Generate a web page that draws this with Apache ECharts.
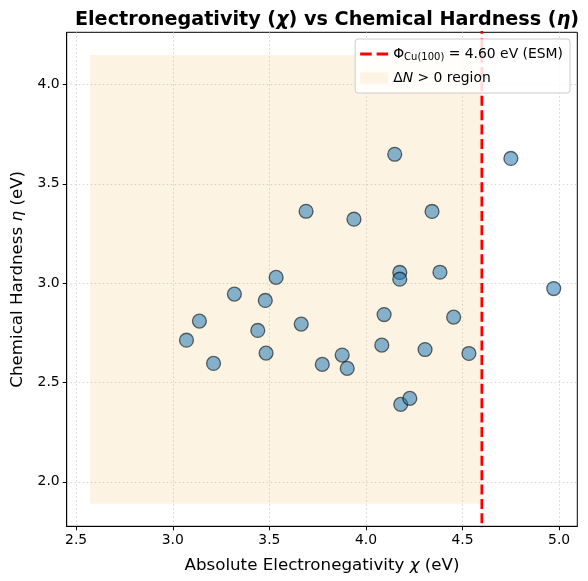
<!DOCTYPE html>
<html><head><meta charset="utf-8">
<script src="https://cdn.jsdelivr.net/npm/echarts@6/dist/echarts.min.js"></script>
<style>html,body{margin:0;padding:0;background:#fff}#c{width:588px;height:581px}</style>
</head><body><div id="c"></div>
<script>
const chi = [3.071,3.138,3.211,3.319,3.440,3.479,3.483,3.535,3.665,3.690,3.774,3.877,3.903,3.938,4.082,4.094,4.149,4.175,4.175,4.180,4.227,4.306,4.342,4.383,4.454,4.533,4.750,4.972];
const eta = [2.713,2.809,2.596,2.945,2.762,2.913,2.648,3.029,2.794,3.362,2.591,2.638,2.571,3.322,2.688,2.842,3.649,3.054,3.020,2.390,2.420,2.666,3.361,3.055,2.829,2.646,3.628,2.973];
const phiCu = 4.60;
const regionX = [2.571, 4.60];
const regionY = [1.890, 4.149];
const xRange = [2.451, 5.094];
const yRange = [1.776, 4.263];
const xTicks = [2.5, 3.0, 3.5, 4.0, 4.5, 5.0];
const yTicks = [2.0, 2.5, 3.0, 3.5, 4.0];

const pts = chi.map((x,i)=>[x, eta[i]]);
const FONT = 'DejaVu Sans';
const lab = v => Number(v).toFixed(1);

const axisCommon = (ticks) => ({
  axisLine:{show:true,lineStyle:{color:'#000',width:1}},
  axisTick:{show:true,length:4,lineStyle:{color:'#000'},customValues:ticks},
  axisLabel:{customValues:ticks,formatter:lab,fontFamily:FONT,fontSize:13.9,color:'#000',margin:7},
  splitLine:{show:true,lineStyle:{color:'#cccccc',type:[1.5,2.5],width:0.8}}
});

const chart = echarts.init(document.getElementById('c'), null, {renderer:'canvas'});
chart.setOption({
  animation:false,
  backgroundColor:'#fff',
  title:{
    text:'{b|Electronegativity (}{i|χ}{b|) vs Chemical Hardness (}{i|η}{b|)}',
    left:322, top:6, textAlign:'center',
    textStyle:{ rich:{
      b:{fontFamily:FONT,fontWeight:'bold',fontSize:19.2,color:'#000'},
      i:{fontFamily:FONT,fontStyle:'italic',fontSize:19.2,color:'#000'}
    }}
  },
  grid:{left:66.7,right:10.7,top:32.3,bottom:54.7,show:true,borderColor:'#000',borderWidth:1,backgroundColor:'transparent'},
  legend:{
    right:18, top:39, orient:'vertical', itemGap:9,
    itemWidth:28, itemHeight:11,
    padding:[8,7,8,5],
    borderColor:'#ccc', borderWidth:1, borderRadius:3,
    backgroundColor:'rgba(255,255,255,0.85)',
    data:[
      {name:'esm',icon:'path://M0,0H10.3V2.8H0Z M14.7,0H25V2.8H14.7Z',itemStyle:{color:'#ff0000'}},
      {name:'region',icon:'rect'}
    ],
    formatter: n => n==='esm'
      ? '{t|Φ}{s|Cu(100)}{t| = 4.60 eV (ESM)}'
      : '{t|Δ}{it|N}{t| > 0 region}',
    textStyle:{ fontFamily:FONT, fontSize:13.9, color:'#000', rich:{
      t:{fontFamily:FONT,fontSize:13.9,color:'#000'},
      it:{fontFamily:FONT,fontSize:13.9,fontStyle:'italic',color:'#000'},
      s:{fontFamily:FONT,fontSize:10,color:'#000',verticalAlign:'bottom',padding:[6,0,0,0]}
    }}
  },
  xAxis:Object.assign({
    type:'value', min:xRange[0], max:xRange[1],
    name:'{t|Absolute Electronegativity }{i|χ}{t| (eV)}',
    nameLocation:'middle', nameGap:31,
    nameTextStyle:{rich:{
      t:{fontFamily:FONT,fontSize:16.7,color:'#000'},
      i:{fontFamily:FONT,fontSize:16.7,fontStyle:'italic',color:'#000'}}}
  }, axisCommon(xTicks)),
  yAxis:Object.assign({
    type:'value', min:yRange[0], max:yRange[1],
    name:'{t|Chemical Hardness }{i|η}{t| (eV)}',
    nameLocation:'middle', nameGap:41, nameRotate:90,
    nameTextStyle:{rich:{
      t:{fontFamily:FONT,fontSize:16.7,color:'#000'},
      i:{fontFamily:FONT,fontSize:16.7,fontStyle:'italic',color:'#000'}}}
  }, axisCommon(yTicks)),
  series:[
    {
      name:'region', type:'scatter', data:[], z:1,
      itemStyle:{color:'rgba(238,155,22,0.12)'},
      markArea:{silent:true, itemStyle:{color:'rgba(238,155,22,0.12)'},
        data:[[{coord:[regionX[0],regionY[0]]},{coord:[regionX[1],regionY[1]]}]]}
    },
    {
      name:'esm', type:'line', z:3,
      data:[[phiCu,yRange[0]-1],[phiCu,yRange[1]+1]],
      showSymbol:false, symbol:'none',
      itemStyle:{color:'#ff0000'},
      lineStyle:{color:'#ff0000',width:2.8,type:[10,4.4]}
    },
    {
      name:'data', type:'scatter', z:4, data:pts,
      symbolSize:13.9,
      itemStyle:{color:'rgba(31,119,180,0.68)',borderColor:'rgba(0,0,0,0.72)',borderWidth:1.3}
    }
  ]
});
</script></body></html>
